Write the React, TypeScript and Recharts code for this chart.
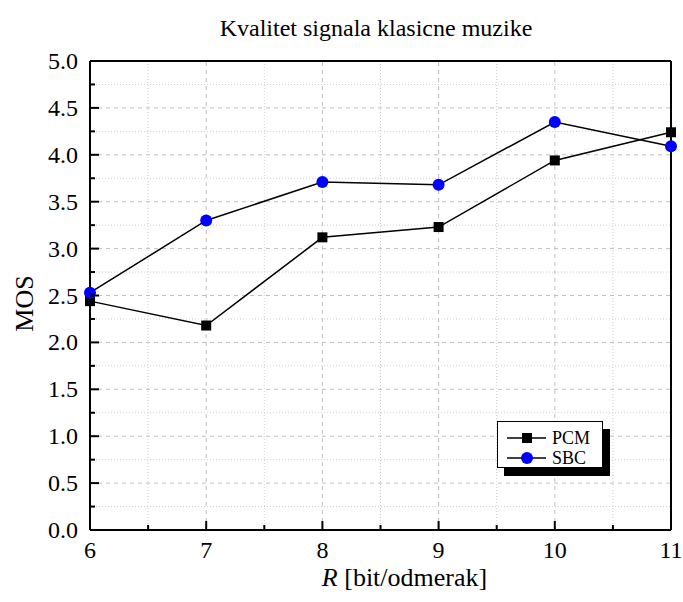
import { LineChart, Line, XAxis, YAxis, ReferenceLine, Legend } from 'recharts';

const R_VALUES = [6, 7, 8, 9, 10, 11];
const PCM = [2.44, 2.18, 3.12, 3.23, 3.94, 4.24];
const SBC = [2.53, 3.3, 3.71, 3.68, 4.35, 4.09];

const X_TICKS = [6, 6.5, 7, 7.5, 8, 8.5, 9, 9.5, 10, 10.5, 11];
const Y_TICKS = [0, 0.25, 0.5, 0.75, 1, 1.25, 1.5, 1.75, 2, 2.25, 2.5, 2.75, 3, 3.25, 3.5, 3.75, 4, 4.25, 4.5, 4.75, 5];
const X_GRID_MAJOR = [7, 8, 9, 10];
const X_GRID_MINOR = [6.5, 7.5, 8.5, 9.5, 10.5];
const Y_GRID_MAJOR = [0.5, 1, 1.5, 2, 2.5, 3, 3.5, 4, 4.5];
const Y_GRID_MINOR = [0.25, 0.75, 1.25, 1.75, 2.25, 2.75, 3.25, 3.75, 4.25, 4.75];

const FONT = '"Liberation Serif", "Times New Roman", serif';

const data = R_VALUES.map((r, i) => ({ r, PCM: PCM[i], SBC: SBC[i] }));

const isMajor = (v: number, step: number) => Math.abs(v / step - Math.round(v / step)) < 1e-6;

const XTick = (props: any) => {
  const { x, y, payload } = props;
  const major = isMajor(payload.value, 1);
  return (
    <g>
      <line x1={x} y1={y} x2={x} y2={y - (major ? 9 : 5)} stroke="#000" strokeWidth={2} />
      {major && (
        <text x={x} y={y + 28} textAnchor="middle" fontSize={24} fontFamily={FONT} fill="#000">
          {payload.value}
        </text>
      )}
    </g>
  );
};

const YTick = (props: any) => {
  const { x, y, payload } = props;
  const major = isMajor(payload.value, 0.5);
  return (
    <g>
      <line x1={x} y1={y} x2={x + (major ? 9 : 5)} y2={y} stroke="#000" strokeWidth={2} />
      {major && (
        <text x={x - 12} y={y + 8} textAnchor="end" fontSize={24} fontFamily={FONT} fill="#000">
          {payload.value.toFixed(1)}
        </text>
      )}
    </g>
  );
};

const SquareDot = (props: any) => {
  const { cx, cy, index } = props;
  return <rect key={`sq-${index}`} x={cx - 5} y={cy - 5} width={10} height={10} fill="#000" />;
};

const LegendBox = () => (
  <div
    style={{
      background: '#fff',
      border: '1px solid #000',
      boxShadow: '7px 8px 0 #000',
      width: 106,
      height: 47,
      boxSizing: 'border-box',
    }}
  >
    <svg width={104} height={45} style={{ display: 'block' }}>
      <line x1={9} y1={16} x2={48} y2={16} stroke="#000" strokeWidth={1.5} />
      <rect x={24} y={11} width={10} height={10} fill="#000" />
      <text x={54} y={22} fontSize={18} fontFamily={FONT} fill="#000">PCM</text>
      <line x1={9} y1={36} x2={48} y2={36} stroke="#000" strokeWidth={1.5} />
      <circle cx={29} cy={36} r={6} fill="#0000ff" />
      <text x={54} y={42} fontSize={18} fontFamily={FONT} fill="#000">SBC</text>
    </svg>
  </div>
);

export default function App() {
  return (
    <div style={{ position: 'absolute', left: 0, top: 0, width: 683, height: 602, background: '#fff' }}>
      <div
        style={{
          position: 'absolute',
          left: 69,
          top: 15,
          width: 614,
          textAlign: 'center',
          fontFamily: FONT,
          fontSize: 24,
          color: '#000',
          zIndex: 2,
        }}
      >
        Kvalitet signala klasicne muzike
      </div>
      <LineChart width={683} height={602} data={data} margin={{ top: 61, right: 12, bottom: 42, left: 40 }}>
        {Y_GRID_MINOR.map((v) => (
          <ReferenceLine key={`ym-${v}`} y={v} stroke="#d0d0d0" strokeDasharray="1 2" strokeWidth={1} />
        ))}
        {X_GRID_MINOR.map((v) => (
          <ReferenceLine key={`xm-${v}`} x={v} stroke="#d0d0d0" strokeDasharray="1 2" strokeWidth={1} />
        ))}
        {Y_GRID_MAJOR.map((v) => (
          <ReferenceLine key={`yM-${v}`} y={v} stroke="#c0c0c0" strokeDasharray="4 4" strokeWidth={1} />
        ))}
        {X_GRID_MAJOR.map((v) => (
          <ReferenceLine key={`xM-${v}`} x={v} stroke="#c0c0c0" strokeDasharray="4 4" strokeWidth={1} />
        ))}
        <ReferenceLine y={5} stroke="#000" strokeWidth={2} />
        <ReferenceLine x={11} stroke="#000" strokeWidth={2} />
        <XAxis
          dataKey="r"
          type="number"
          domain={[6, 11]}
          ticks={X_TICKS}
          interval={0}
          height={30}
          tickSize={0}
          tickMargin={0}
          tickLine={false}
          axisLine={{ stroke: '#000', strokeWidth: 2 }}
          tick={(p: any) => <XTick {...p} />}
          label={{
            content: (p: any) => {
              const vb = p.viewBox;
              return (
                <text x={vb.x + vb.width / 2 + 24} y={vb.y + 56} textAnchor="middle" fontSize={26} fontFamily={FONT} fill="#000">
                  <tspan fontStyle="italic">R</tspan> [bit/odmerak]
                </text>
              );
            },
          }}
        />
        <YAxis
          type="number"
          domain={[0, 5]}
          ticks={Y_TICKS}
          interval={0}
          width={50}
          tickSize={0}
          tickMargin={0}
          tickLine={false}
          axisLine={{ stroke: '#000', strokeWidth: 2 }}
          tick={(p: any) => <YTick {...p} />}
          label={{
            content: (p: any) => {
              const vb = p.viewBox;
              const cx = vb.x - 16;
              const cy = vb.y + vb.height / 2 + 8;
              return (
                <text x={cx} y={cy} dy="0.35em" textAnchor="middle" fontSize={26} fontFamily={FONT} fill="#000" transform={`rotate(-90, ${cx}, ${cy})`}>
                  MOS
                </text>
              );
            },
          }}
        />
        <Legend
          layout="horizontal"
          verticalAlign="middle"
          align="center"
          content={() => <LegendBox />}
          wrapperStyle={{ position: 'absolute', left: 497, top: 421, width: 'auto', height: 'auto' }}
        />
        <Line
          type="linear"
          dataKey="PCM"
          stroke="#000"
          strokeWidth={1.5}
          dot={(p: any) => <SquareDot {...p} />}
          isAnimationActive={false}
        />
        <Line
          type="linear"
          dataKey="SBC"
          stroke="#000"
          strokeWidth={1.5}
          dot={{ r: 6, fill: '#0000ff', stroke: '#0000ff', strokeWidth: 0 }}
          isAnimationActive={false}
        />
      </LineChart>
    </div>
  );
}
